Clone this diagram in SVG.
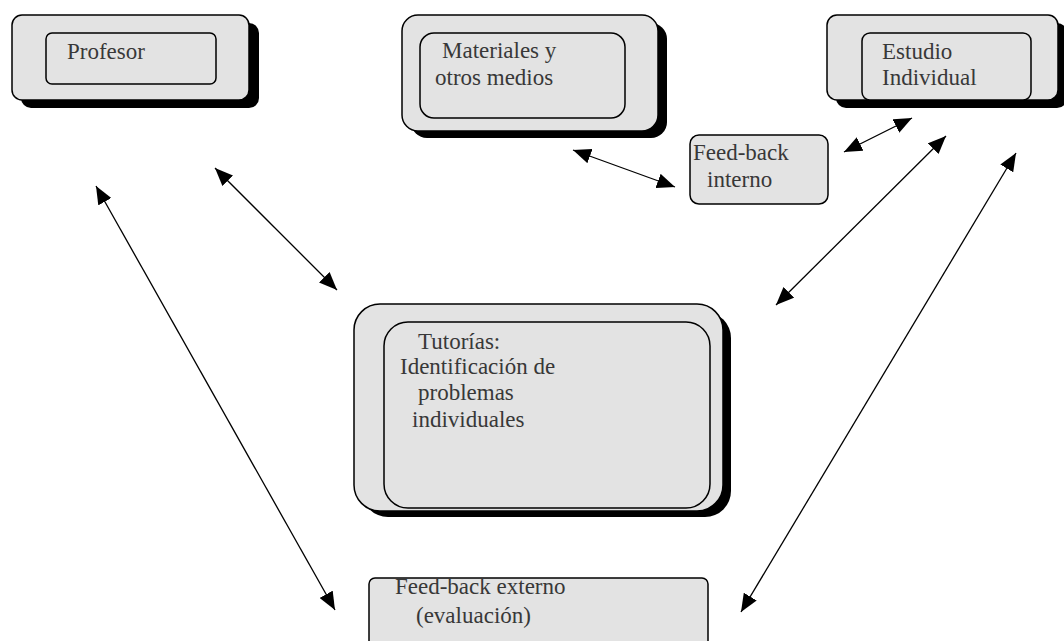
<svg xmlns="http://www.w3.org/2000/svg" width="1064" height="641" viewBox="0 0 1064 641">
<style>
.shadow{fill:#000}
.outer{fill:#e3e3e3;stroke:#000;stroke-width:1.5}
.inner{fill:#e3e3e3;stroke:#000;stroke-width:1.5}
.lbl{font-family:"Liberation Serif","Times New Roman",serif;font-size:23px;fill:#383838}
.conn{stroke:#000;stroke-width:1.3;fill:none;marker-start:url(#ah);marker-end:url(#ah)}
</style>
<defs>
<marker id="ah" markerUnits="userSpaceOnUse" markerWidth="18" markerHeight="15" refX="18" refY="7.5" orient="auto-start-reverse" viewBox="0 0 18 15">
<path d="M0,0 L18,7.5 L0,15 z" fill="#000"/>
</marker>
</defs>
<rect width="1064" height="641" fill="#fff"/>
<g id="profesor">
<rect class="shadow" x="21" y="23" width="238" height="85" rx="10"/>
<rect class="outer" x="12" y="15" width="237" height="85" rx="10"/>
<rect class="inner" x="46" y="33" width="170" height="51" rx="6"/>
<text class="lbl" x="67" y="59">Profesor</text>
</g>
<g id="materiales">
<rect class="shadow" x="411" y="23" width="256" height="115" rx="16"/>
<rect class="outer" x="402" y="15" width="256" height="116" rx="16"/>
<rect class="inner" x="420" y="33" width="205" height="85" rx="14"/>
<text class="lbl" x="442" y="58">Materiales y</text>
<text class="lbl" x="435" y="85">otros medios</text>
</g>
<g id="estudio">
<rect class="shadow" x="836" y="23" width="231" height="85" rx="10"/>
<rect class="outer" x="827" y="15" width="231" height="85" rx="10"/>
<rect class="inner" x="862" y="33" width="169" height="67" rx="8"/>
<text class="lbl" x="882" y="59">Estudio</text>
<text class="lbl" x="882" y="85">Individual</text>
</g>
<g id="feedback-interno">
<rect class="outer" x="690" y="135" width="138" height="69" rx="9"/>
<text class="lbl" x="693" y="160">Feed-back</text>
<text class="lbl" x="707" y="187">interno</text>
</g>
<g id="tutorias">
<rect class="shadow" x="362" y="312" width="369" height="205" rx="26"/>
<rect class="outer" x="354" y="304" width="369" height="207" rx="26"/>
<rect class="inner" x="384" y="322" width="326" height="186" rx="24"/>
<text class="lbl" x="418" y="349">Tutorías:</text>
<text class="lbl" x="400" y="374">Identificación de</text>
<text class="lbl" x="418" y="400">problemas</text>
<text class="lbl" x="412" y="427">individuales</text>
</g>
<g id="feedback-externo">
<rect class="outer" x="369" y="578" width="339" height="80" rx="6"/>
<text class="lbl" x="395" y="594">Feed-back externo</text>
<text class="lbl" x="416" y="623">(evaluación)</text>
</g>
<g id="connectors">
<line class="conn" x1="96" y1="186" x2="335" y2="610"/>
<line class="conn" x1="215" y1="168" x2="337" y2="290"/>
<line class="conn" x1="573" y1="150" x2="675" y2="187"/>
<line class="conn" x1="844" y1="152" x2="912" y2="118"/>
<line class="conn" x1="946" y1="136" x2="776" y2="305"/>
<line class="conn" x1="1016" y1="153" x2="741" y2="612"/>
</g>
</svg>
